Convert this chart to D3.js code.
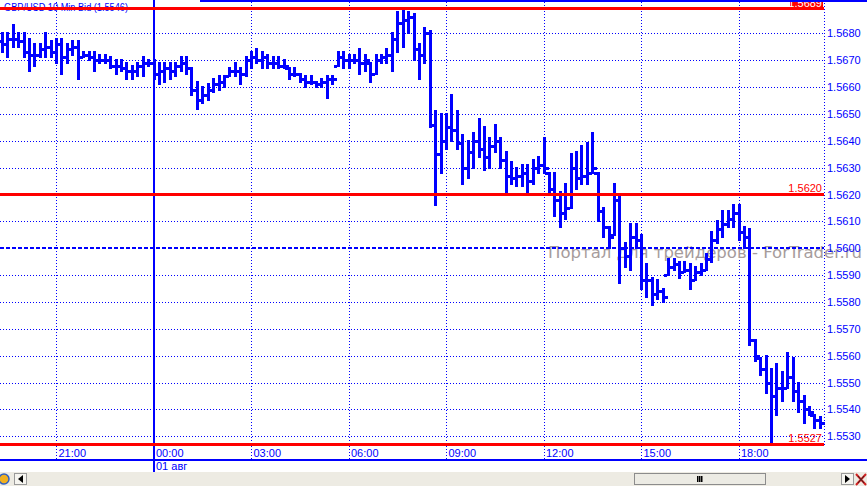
<!DOCTYPE html>
<html><head><meta charset="utf-8">
<script src="https://cdn.jsdelivr.net/npm/d3@7"></script>
<style>html,body{margin:0;padding:0;background:#fff;overflow:hidden}svg{display:block}</style>
</head><body><svg id="c" width="867" height="486"></svg>
<script>
// ---------- data ----------
const firstBarTime = new Date(2012, 6, 31, 19, 20);
const barMinutes = 10;
const opens = [
1.5677,1.5676,1.5678,1.5678,1.5677,1.5673,1.5672,1.5672,1.5674,1.5675,
1.5673,1.5676,1.5671,1.5674,1.5675,1.5671,1.5672,1.5671,1.5670,1.5670,
1.5670,1.5668,1.5668,1.5667,1.5666,1.5666,1.5668,1.5669,1.5669,1.5665,
1.5666,1.5667,1.5666,1.5668,1.5669,1.5667,1.5659,1.5655,1.5657,1.5659,
1.5661,1.5662,1.5664,1.5666,1.5666,1.5665,1.5670,1.5671,1.5670,1.5671,
1.5669,1.5669,1.5668,1.5667,1.5665,1.5665,1.5663,1.5662,1.5662,1.5661,
1.5662,1.5663,1.5668,1.5671,1.5670,1.5670,1.5670,1.5669,1.5669,1.5665,
1.5670,1.5671,1.5672,1.5678,1.5684,1.5685,1.5686,1.5674,1.5672,1.5680,
1.5646,1.5635,1.5640,1.5645,1.5644,1.5639,1.5630,1.5636,1.5640,1.5637,
1.5634,1.5638,1.5640,1.5633,1.5627,1.5626,1.5627,1.5628,1.5625,1.5630,
1.5631,1.5628,1.5622,1.5618,1.5613,1.5615,1.5630,1.5626,1.5627,1.5628,
1.5628,1.5614,1.5608,1.5605,1.5618,1.5600,1.5597,1.5604,1.5603,1.5588,
1.5588,1.5583,1.5584,1.5590,1.5593,1.5594,1.5591,1.5592,1.5588,1.5591,
1.5592,1.5596,1.5603,1.5607,1.5609,1.5611,1.5613,1.5606,1.5604,1.5566,
1.5559,1.5555,1.5550,1.5545,1.5548,1.5548,1.5552,1.5547,1.5543,1.5540,
1.5538,1.5536];
const highs = [
1.5680,1.5680,1.5683,1.5680,1.5680,1.5678,1.5676,1.5676,1.5680,1.5677,
1.5678,1.5678,1.5676,1.5677,1.5677,1.5673,1.5673,1.5673,1.5672,1.5672,
1.5671,1.5670,1.5670,1.5669,1.5668,1.5669,1.5671,1.5670,1.5670,1.5669,
1.5669,1.5669,1.5669,1.5671,1.5671,1.5667,1.5662,1.5660,1.5661,1.5663,
1.5664,1.5664,1.5667,1.5669,1.5667,1.5671,1.5673,1.5674,1.5673,1.5672,
1.5671,1.5671,1.5670,1.5667,1.5667,1.5665,1.5664,1.5664,1.5662,1.5663,
1.5664,1.5664,1.5673,1.5673,1.5672,1.5672,1.5674,1.5672,1.5669,1.5672,
1.5672,1.5674,1.5680,1.5688,1.5689,1.5688,1.5687,1.5676,1.5682,1.5681,
1.5651,1.5650,1.5650,1.5657,1.5651,1.5642,1.5640,1.5643,1.5648,1.5645,
1.5641,1.5646,1.5641,1.5636,1.5632,1.5630,1.5631,1.5631,1.5633,1.5634,
1.5641,1.5628,1.5628,1.5621,1.5624,1.5635,1.5636,1.5638,1.5639,1.5643,
1.5628,1.5615,1.5608,1.5624,1.5620,1.5602,1.5609,1.5609,1.5605,1.5594,
1.5589,1.5588,1.5585,1.5596,1.5596,1.5595,1.5595,1.5594,1.5593,1.5594,
1.5598,1.5606,1.5610,1.5614,1.5614,1.5616,1.5616,1.5608,1.5607,1.5566,
1.5559,1.5560,1.5555,1.5557,1.5554,1.5561,1.5559,1.5550,1.5545,1.5541,
1.5538,1.5537];
const lows = [
1.5673,1.5671,1.5675,1.5675,1.5671,1.5666,1.5668,1.5671,1.5671,1.5671,
1.5669,1.5665,1.5669,1.5672,1.5663,1.5671,1.5670,1.5666,1.5669,1.5669,
1.5667,1.5665,1.5666,1.5663,1.5663,1.5664,1.5664,1.5668,1.5663,1.5661,
1.5662,1.5663,1.5664,1.5666,1.5665,1.5657,1.5652,1.5654,1.5655,1.5658,
1.5659,1.5660,1.5664,1.5664,1.5661,1.5664,1.5667,1.5669,1.5667,1.5667,
1.5667,1.5667,1.5667,1.5663,1.5664,1.5662,1.5660,1.5661,1.5660,1.5660,
1.5656,1.5661,1.5668,1.5667,1.5667,1.5669,1.5665,1.5666,1.5662,1.5665,
1.5669,1.5669,1.5666,1.5673,1.5675,1.5680,1.5670,1.5663,1.5669,1.5645,
1.5616,1.5628,1.5637,1.5640,1.5637,1.5624,1.5626,1.5630,1.5634,1.5629,
1.5630,1.5636,1.5630,1.5621,1.5624,1.5623,1.5623,1.5621,1.5624,1.5628,
1.5628,1.5620,1.5612,1.5608,1.5611,1.5615,1.5622,1.5624,1.5624,1.5628,
1.5610,1.5604,1.5600,1.5605,1.5587,1.5593,1.5592,1.5600,1.5585,1.5582,
1.5579,1.5581,1.5580,1.5590,1.5592,1.5589,1.5591,1.5585,1.5588,1.5590,
1.5592,1.5595,1.5602,1.5604,1.5608,1.5608,1.5603,1.5600,1.5564,1.5558,
1.5553,1.5546,1.5527,1.5538,1.5543,1.5548,1.5543,1.5539,1.5535,1.5538,
1.5533,1.5533];
const closes = [
1.5676,1.5678,1.5678,1.5677,1.5673,1.5672,1.5672,1.5674,1.5675,1.5673,
1.5676,1.5671,1.5674,1.5675,1.5671,1.5672,1.5671,1.5670,1.5670,1.5670,
1.5668,1.5668,1.5667,1.5666,1.5666,1.5668,1.5669,1.5669,1.5665,1.5666,
1.5667,1.5666,1.5668,1.5669,1.5667,1.5659,1.5655,1.5657,1.5659,1.5661,
1.5662,1.5664,1.5666,1.5666,1.5665,1.5670,1.5671,1.5670,1.5671,1.5669,
1.5669,1.5668,1.5668,1.5665,1.5665,1.5663,1.5662,1.5662,1.5661,1.5662,
1.5663,1.5663,1.5671,1.5670,1.5670,1.5670,1.5669,1.5670,1.5665,1.5670,
1.5671,1.5672,1.5678,1.5684,1.5685,1.5686,1.5674,1.5672,1.5680,1.5646,
1.5635,1.5640,1.5645,1.5644,1.5639,1.5630,1.5636,1.5640,1.5637,1.5634,
1.5638,1.5640,1.5633,1.5627,1.5626,1.5627,1.5628,1.5625,1.5630,1.5631,
1.5630,1.5622,1.5618,1.5613,1.5615,1.5630,1.5626,1.5627,1.5628,1.5630,
1.5614,1.5608,1.5604,1.5618,1.5600,1.5597,1.5604,1.5603,1.5588,1.5588,
1.5583,1.5584,1.5582,1.5593,1.5594,1.5591,1.5592,1.5588,1.5591,1.5592,
1.5596,1.5603,1.5607,1.5609,1.5611,1.5613,1.5606,1.5604,1.5566,1.5560,
1.5555,1.5550,1.5545,1.5548,1.5548,1.5552,1.5547,1.5543,1.5540,1.5539,
1.5536,1.5535];
const priceTicks = [1.5530,1.5540,1.5550,1.5560,1.5570,1.5580,1.5590,1.5600,
                    1.5610,1.5620,1.5630,1.5640,1.5650,1.5660,1.5670,1.5680];
const timeTicks = [new Date(2012,6,31,21,0), new Date(2012,7,1,3,0), new Date(2012,7,1,6,0),
                   new Date(2012,7,1,9,0), new Date(2012,7,1,12,0), new Date(2012,7,1,15,0),
                   new Date(2012,7,1,18,0)];
const dayStart = new Date(2012,7,1,0,0);
const dayLabel = "01 авг";
const levelValues = [1.5689, 1.5620, 1.5527];
const levelLabels = ["1.5689", "1.5620", "1.5527"];
const dashedLevel = 1.5600;
const titleText = "GBP/USD 10 Min Bid (1.5546)";
const watermarkText = "Портал для трейдеров - ForTrader.ru";

// ---------- setup ----------
const BLUE = "#0000ff", RED = "#ff0000";
const svg = d3.select("#c");
const FONT = "'Liberation Sans', Arial, sans-serif";
const barTimes = opens.map((_, i) => new Date(firstBarTime.getTime() + i * barMinutes * 60000));
const bars = opens.map((o, i) => ({t: barTimes[i], o, h: highs[i], l: lows[i], c: closes[i]}));

const x = d3.scaleTime()
  .domain([dayStart, new Date(2012,7,1,18,0)])
  .range([153.5, 738.5]);
const y = d3.scaleLinear().domain([1.5530, 1.5680]).range([436.3, 33.3]);
const plotRight = 824;

svg.append("rect").attr("width", 867).attr("height", 486).attr("fill", "#fff");

// horizontal dotted grid
const gGrid = svg.append("g").attr("shape-rendering", "crispEdges");
gGrid.selectAll("line.h").data(priceTicks).enter().append("line")
  .attr("x1", 0).attr("x2", plotRight)
  .attr("y1", d => Math.round(y(d)) + 0.5).attr("y2", d => Math.round(y(d)) + 0.5)
  .attr("stroke", BLUE).attr("stroke-width", 1).attr("stroke-dasharray", "1,2");
// vertical dotted grid at time ticks
gGrid.selectAll("line.v").data(timeTicks).enter().append("line")
  .attr("x1", d => Math.round(x(d)) + 0.5).attr("x2", d => Math.round(x(d)) + 0.5)
  .attr("y1", 2).attr("y2", 460)
  .attr("stroke", BLUE).attr("stroke-width", 1).attr("stroke-dasharray", "1,2");
// right axis dotted line
gGrid.append("line").attr("x1", plotRight + 0.5).attr("x2", plotRight + 0.5)
  .attr("y1", 0).attr("y2", 445)
  .attr("stroke", BLUE).attr("stroke-dasharray", "1,2");
// day separator
gGrid.append("rect").attr("x", Math.round(x(dayStart)) - 1).attr("y", 0)
  .attr("width", 2).attr("height", 472).attr("fill", BLUE);

// watermark
svg.append("text").attr("x", 548).attr("y", 258)
  .attr("font-family", "'DejaVu Sans', sans-serif").attr("font-size", 15)
  .attr("textLength", 314).attr("lengthAdjust", "spacingAndGlyphs")
  .attr("fill", "#a69c9c").text(watermarkText);

// title
svg.append("text").attr("x", 4).attr("y", 11)
  .attr("font-family", FONT).attr("font-size", 10)
  .attr("textLength", 124).attr("lengthAdjust", "spacingAndGlyphs")
  .attr("fill", BLUE).text(titleText);

// bars (OHLC)
const gBars = svg.append("g").attr("fill", BLUE).attr("shape-rendering", "crispEdges");
const barG = gBars.selectAll("g").data(bars).enter().append("g");
barG.append("rect")
  .attr("x", d => Math.round(x(d.t)) - 1).attr("width", 3)
  .attr("y", d => Math.round(y(d.h)) - 1)
  .attr("height", d => Math.round(y(d.l)) - Math.round(y(d.h)) + 2);
barG.append("rect")
  .attr("x", d => Math.round(x(d.t)) - 4).attr("width", 3)
  .attr("y", d => Math.round(y(d.o)) - 1).attr("height", 3);
barG.append("rect")
  .attr("x", d => Math.round(x(d.t)) + 2).attr("width", 3)
  .attr("y", d => Math.round(y(d.c)) - 1).attr("height", 3);

// dashed level
svg.append("line").attr("x1", 0).attr("x2", plotRight)
  .attr("y1", Math.round(y(dashedLevel))).attr("y2", Math.round(y(dashedLevel)))
  .attr("stroke", BLUE).attr("stroke-width", 2).attr("stroke-dasharray", "4,2")
  .attr("shape-rendering", "crispEdges");

// red level lines
const gLev = svg.append("g");
levelValues.forEach((v, i) => {
  const ly = Math.round(y(v)) - (i === 0 ? 1 : 0);
  gLev.append("rect").attr("x", 0).attr("y", ly - 1).attr("width", plotRight).attr("height", 3)
    .attr("fill", RED).attr("shape-rendering", "crispEdges");
  if (i === 0) {
    gLev.append("rect").attr("x", 790).attr("y", 0).attr("width", 33).attr("height", ly - 1)
      .attr("fill", RED);
    gLev.append("text").attr("x", 822).attr("y", ly - 1).attr("text-anchor", "end")
      .attr("font-family", FONT).attr("font-size", 11).attr("fill", "#fff").text(levelLabels[i]);
  } else {
    gLev.append("text").attr("x", 822).attr("y", ly - 2).attr("text-anchor", "end")
      .attr("font-family", FONT).attr("font-size", 11).attr("fill", RED).text(levelLabels[i]);
  }
});

// top border
svg.append("rect").attr("x", 200).attr("y", 0).attr("width", 667).attr("height", 2).attr("fill", BLUE);

// right axis
const yAxis = d3.axisRight(y).tickValues(priceTicks).tickFormat(d3.format(".4f")).tickSize(0).tickPadding(0);
const gY = svg.append("g").attr("transform", `translate(${plotRight + 2},0)`).call(yAxis);
gY.select(".domain").remove();
gY.selectAll("text").attr("font-family", FONT).attr("font-size", 11).attr("fill", BLUE).attr("x", 1);

// bottom axis
const xAxis = d3.axisBottom(x).tickValues(timeTicks.concat([dayStart]).sort((a,b)=>a-b))
  .tickFormat(d3.timeFormat("%H:%M")).tickSize(0).tickPadding(0);
const gX = svg.append("g").attr("transform", "translate(0,448)").call(xAxis);
gX.select(".domain").remove();
gX.selectAll("text").attr("font-family", FONT).attr("font-size", 11).attr("fill", BLUE)
  .attr("text-anchor", "start").attr("dx", 2).attr("y", 0).attr("dy", "0.8em");
svg.append("rect").attr("x", 0).attr("y", 459).attr("width", 867).attr("height", 2).attr("fill", BLUE);
svg.append("text").attr("x", Math.round(x(dayStart)) + 2).attr("y", 470)
  .attr("font-family", FONT).attr("font-size", 11).attr("fill", BLUE).text(dayLabel);

// bottom control bar
const gb = svg.append("g");
gb.append("rect").attr("x", 0).attr("y", 472).attr("width", 867).attr("height", 14).attr("fill", "#edebe3");
gb.append("circle").attr("cx", 4).attr("cy", 479).attr("r", 5).attr("fill", "#f0b020").attr("stroke", "#3060c0").attr("stroke-width", 1.5);
gb.append("rect").attr("x", 14.5).attr("y", 473.5).attr("width", 12).attr("height", 11).attr("fill", "#f6f5f0").attr("stroke", "#9a9a9a");
gb.append("path").attr("d", "M18,479 L23,475 L23,483 Z").attr("fill", "#000");
gb.append("rect").attr("x", 634.5).attr("y", 473.5).attr("width", 131).attr("height", 11).attr("fill", "#ecebe4").attr("stroke", "#8c8c8c");
[697, 699, 701].forEach(px => gb.append("rect").attr("x", px).attr("y", 476).attr("width", 1.5).attr("height", 6).attr("fill", "#000"));
gb.append("rect").attr("x", 841.5).attr("y", 473.5).attr("width", 12).attr("height", 11).attr("fill", "#f6f5f0").attr("stroke", "#9a9a9a");
gb.append("path").attr("d", "M845,475 L850,479 L845,483 Z").attr("fill", "#000");
gb.append("path").attr("d", "M856,474 L866,485 M866,474 L856,485").attr("stroke", "#d02020").attr("stroke-width", 2);
gb.append("path").attr("d", "M858,476 L864,483 M864,476 L858,483").attr("stroke", "#402020").attr("stroke-width", 1);
</script></body></html>
